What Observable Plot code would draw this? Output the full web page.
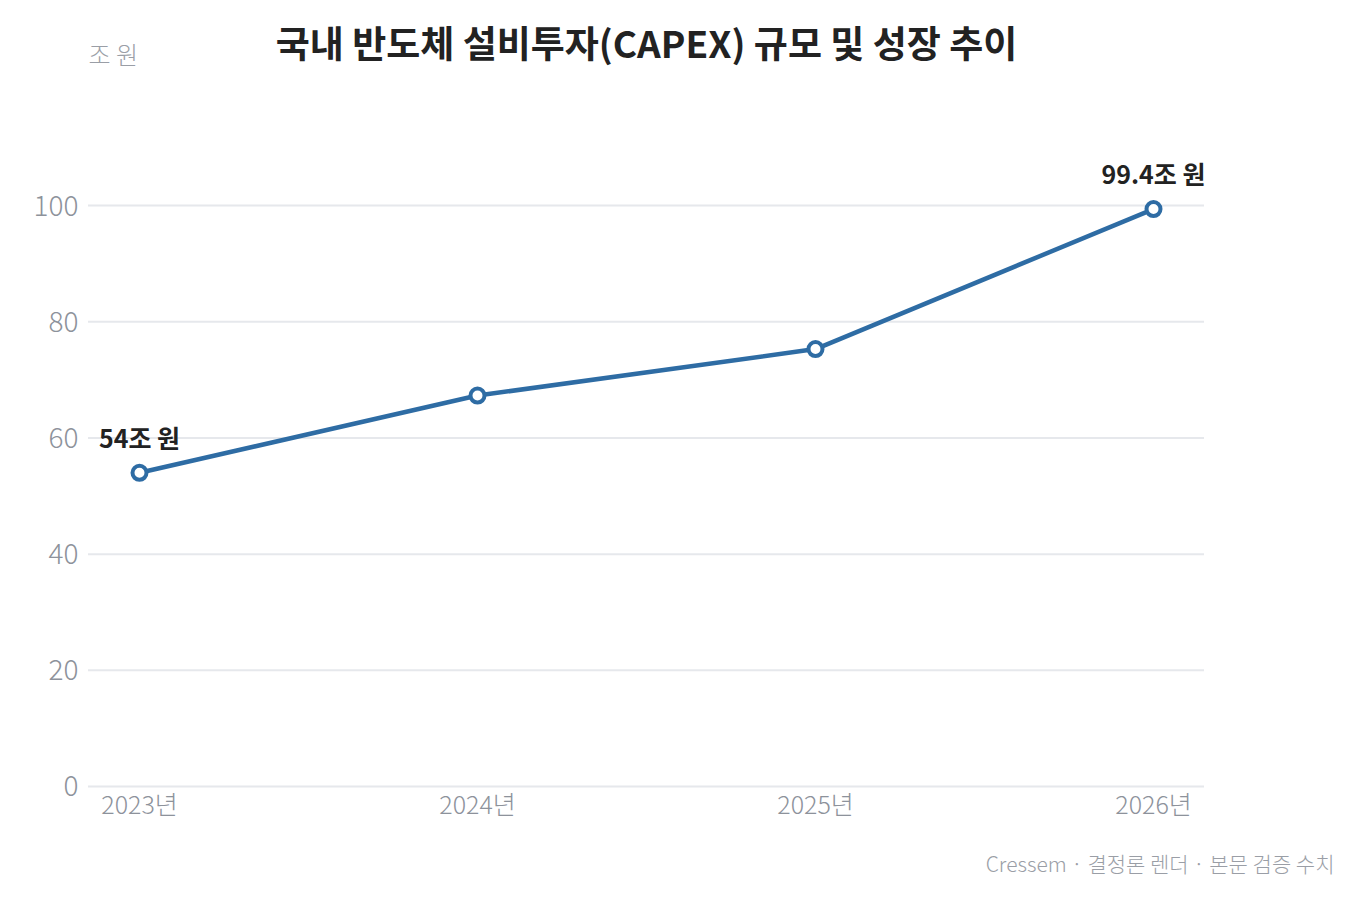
<!DOCTYPE html>
<html><head><meta charset="utf-8">
<script src="https://cdn.jsdelivr.net/npm/d3@7"></script>
<script src="https://cdn.jsdelivr.net/npm/@observablehq/plot@0.6"></script>
<style>
body{margin:0;background:#fff;}
svg{display:block;}
</style></head>
<body><div id="chart"></div>
<script>
const years = ["2023년","2024년","2025년","2026년"];
const values = [54, 67.3, 75.3, 99.4];
const yTicks = [0,20,40,60,80,100];
const labelYears = ["2023년","2026년"];
const labelTexts = ["54조 원","99.4조 원"];
const titleText = "국내 반도체 설비투자(CAPEX) 규모 및 성장 추이";
const unitText = "조 원";
const captionText = "Cressem · 결정론 렌더 · 본문 검증 수치";

const data = years.map((y,i)=>({year:y, value:values[i]}));
const labels = labelYears.map((y,i)=>({year:y, value:values[years.indexOf(y)], text:labelTexts[i]}));

const font = "'Noto Sans CJK KR', 'Noto Sans', sans-serif";
const chart = Plot.plot({
  width: 1361,
  height: 904,
  marginLeft: 88,
  marginRight: 157,
  marginTop: 147,
  marginBottom: 118,
  style: {fontFamily: font, background: "#fff", overflow: "visible"},
  x: {type: "point", domain: years, padding: 0.15, label: null, tickSize: 0, tickPadding: 10},
  y: {domain: [0, 110], ticks: yTicks, label: null, tickSize: 0, tickPadding: 10},
  marks: [
    Plot.ruleY(yTicks, {stroke: "#e6e8ec", strokeWidth: 2}),
    Plot.axisY({ticks: yTicks, tickSize: 0, tickPadding: 10, fontSize: 28, fill: "#8d929b", fontWeight: 300, label: null, dy: 1}),
    Plot.axisX({tickSize: 0, tickPadding: 10, fontSize: 25, fill: "#8d929b", fontWeight: 300, label: null}),
    Plot.line(data, {x: "year", y: "value", stroke: "#2e6ca4", strokeWidth: 4.5}),
    Plot.dot(data, {x: "year", y: "value", r: 7, fill: "#fff", stroke: "#2e6ca4", strokeWidth: 4}),
    Plot.text(labels, {x: "year", y: "value", text: "text", dy: -33, fontSize: 25, fontWeight: 700, fill: "#222"}),
    Plot.text([titleText], {frameAnchor: "top", lineAnchor: "middle", dy: -101, fontSize: 37, fontWeight: 700, fill: "#222"}),
    Plot.text([unitText], {frameAnchor: "top-left", lineAnchor: "middle", dy: -91, fontSize: 24, fill: "#9a9ea6", fontWeight: 300}),
    Plot.text([captionText], {frameAnchor: "bottom-right", lineAnchor: "middle", dx: 130, dy: 79, fontSize: 21, fill: "#9a9ea6", fontWeight: 300})
  ]
});
document.getElementById("chart").appendChild(chart);
</script>
</body></html>
